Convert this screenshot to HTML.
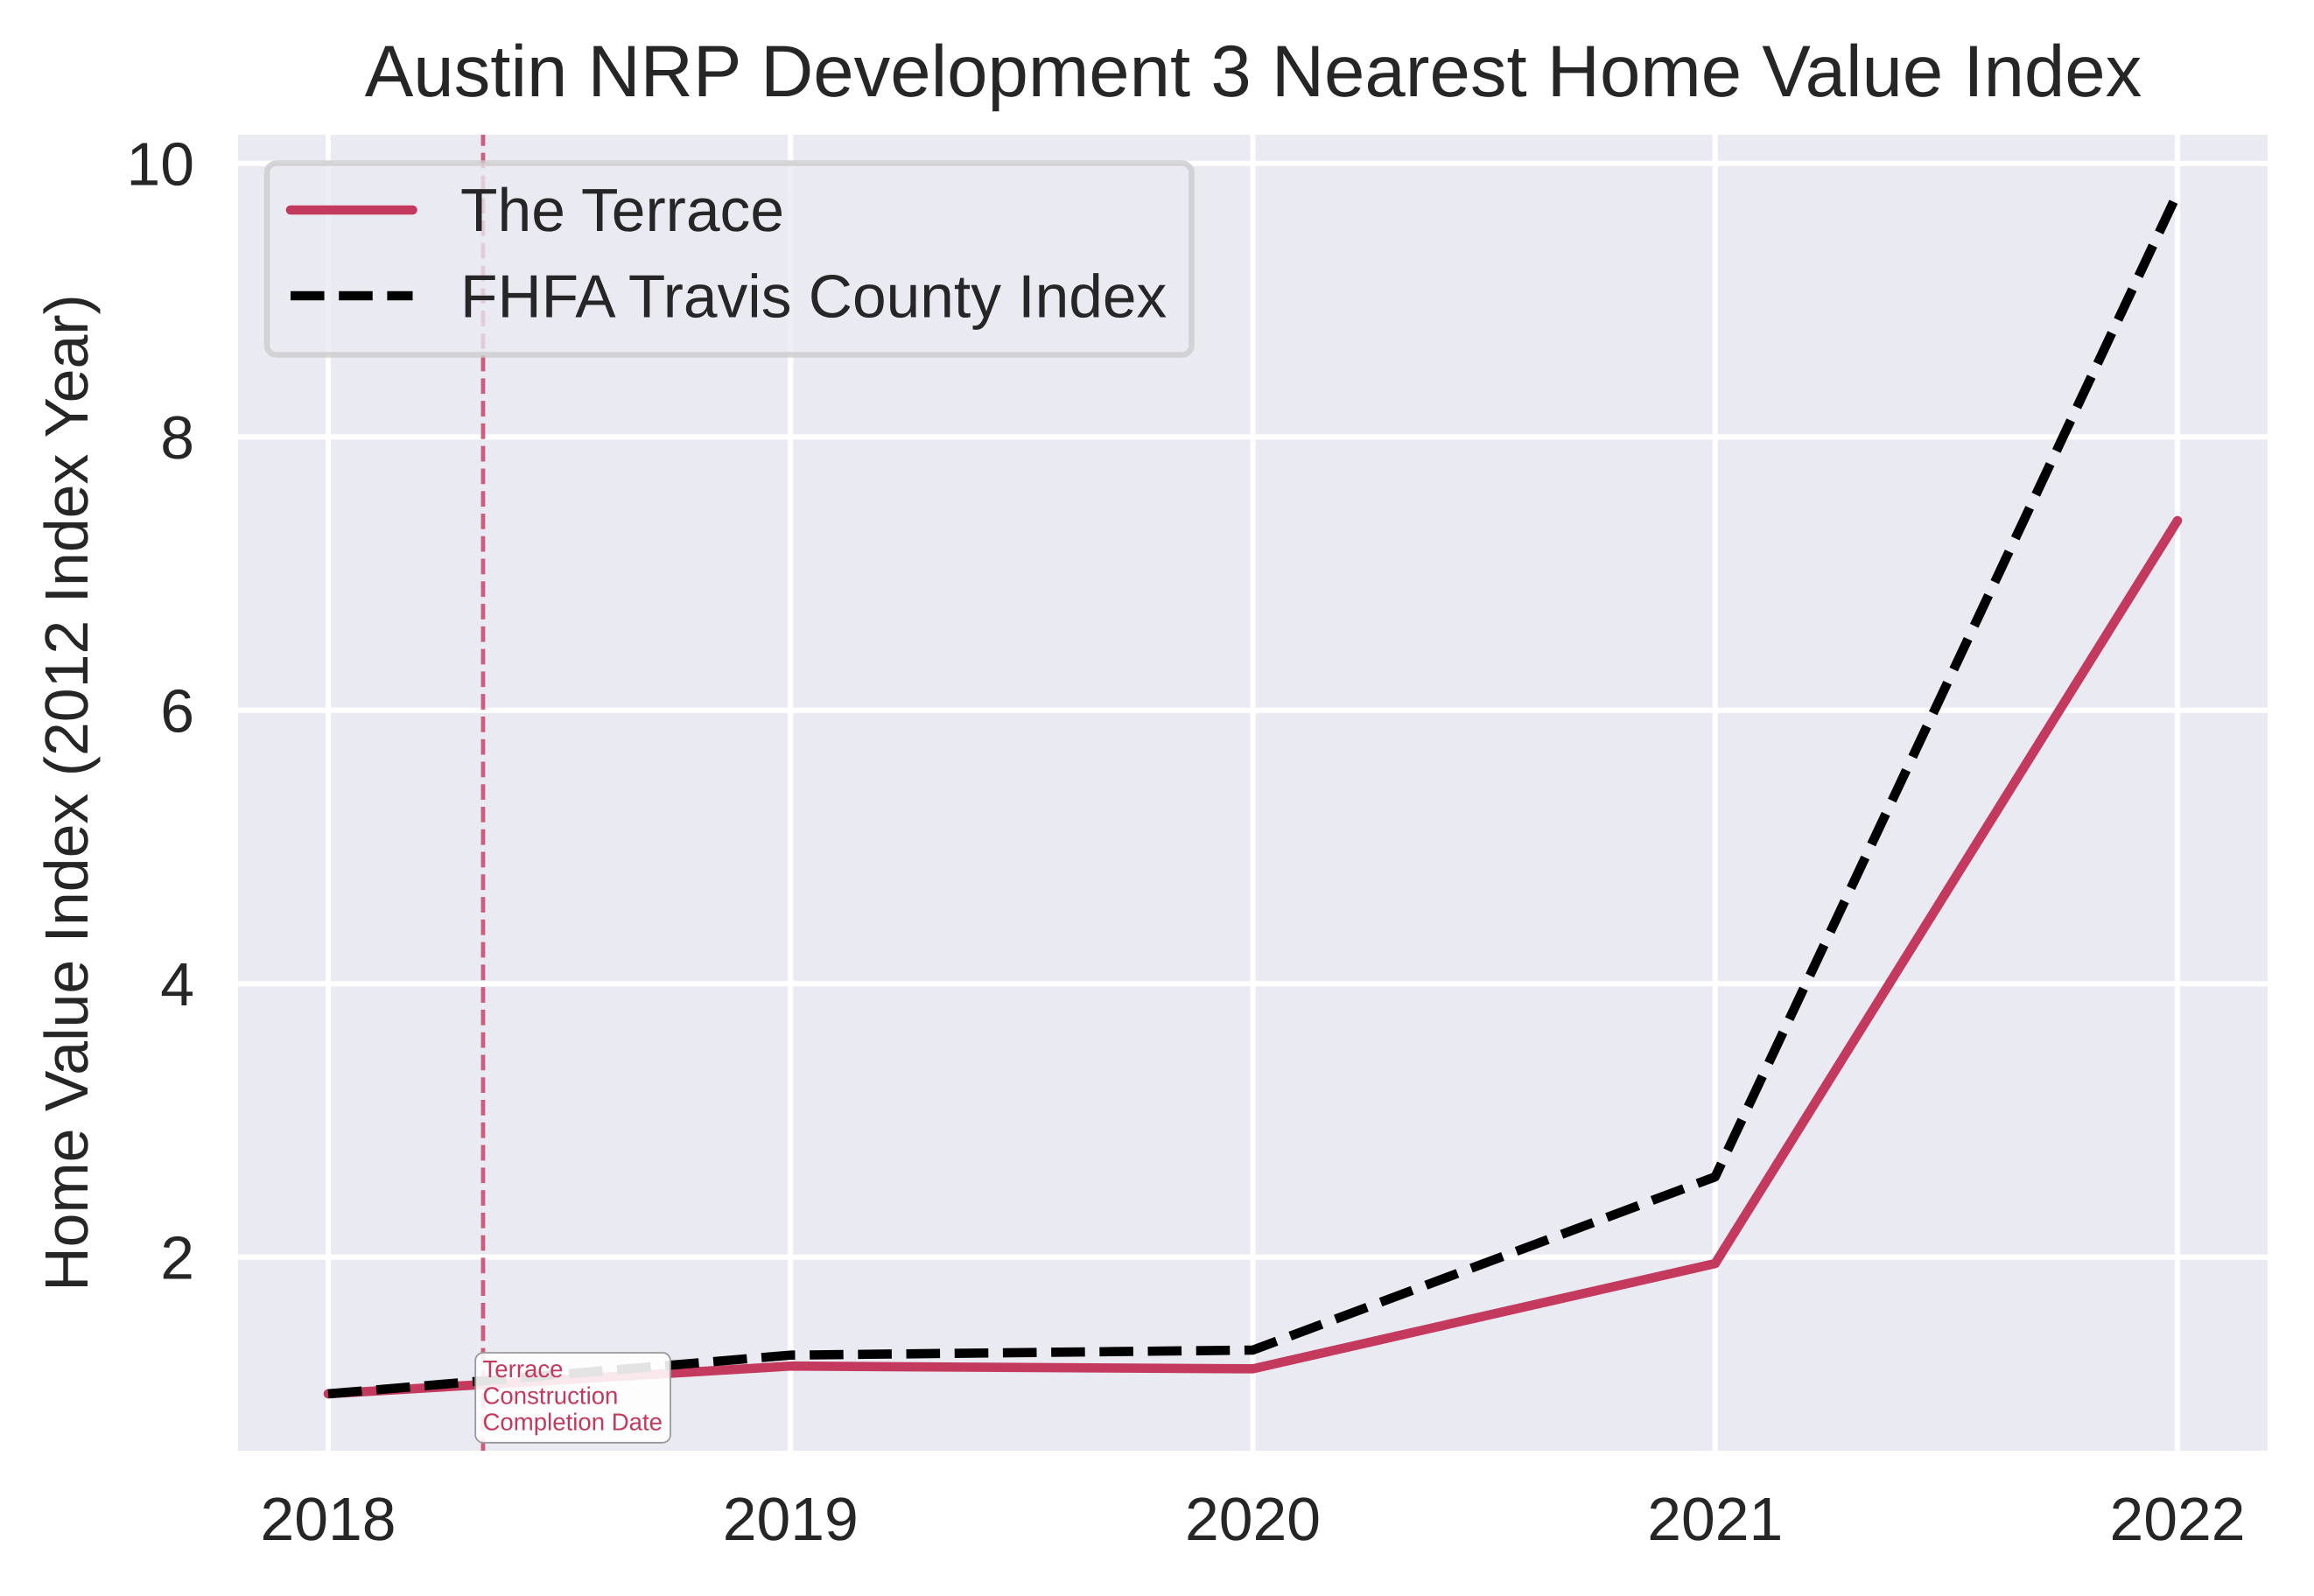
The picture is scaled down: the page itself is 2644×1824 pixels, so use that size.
<!DOCTYPE html>
<html>
<head>
<meta charset="utf-8">
<title>Austin NRP Development 3 Nearest Home Value Index</title>
<style>
html,body{margin:0;padding:0;background:#fff;width:2644px;height:1824px;overflow:hidden}
svg{display:block}
text{font-family:"Liberation Sans",Arial,sans-serif;fill:#262626;text-rendering:geometricPrecision}
</style>
</head>
<body>
<svg id="chart" xmlns="http://www.w3.org/2000/svg" width="2644" height="1824" viewBox="0 0 2644 1824">
  <rect x="0" y="0" width="2644" height="1824" fill="#ffffff"/>
  <rect x="272" y="154" width="2319" height="1504" fill="#EAEAF2"/>
  <g id="grid"></g>
  <g id="ticks"></g>
  <g id="marker"></g>
  <g id="series"></g>
  <g>
    <rect x="543.2" y="1546" width="222.8" height="102.8" rx="9" ry="9" fill="#ffffff" fill-opacity="0.89" stroke="#999999" stroke-width="1.8"/>
    <text x="551.5" y="1574" font-size="27.6" style="fill:#c43a5e">Terrace</text>
    <text x="551.5" y="1604.5" font-size="27.6" style="fill:#c43a5e">Construction</text>
    <text x="551.5" y="1634.5" font-size="27.6" style="fill:#c43a5e">Completion Date</text>
  </g>
  <g>
    <rect x="305" y="186.5" width="1056.5" height="219" rx="11" ry="11" fill="#EAEAF2" fill-opacity="0.8" stroke="#cccccc" stroke-opacity="0.8" stroke-width="6.6"/>
    <line x1="332" y1="240" x2="471.5" y2="240" stroke="#c43a5e" stroke-width="10.6" stroke-linecap="round"/>
    <text x="526" y="264" font-size="69.6">The Terrace</text>
    <line x1="332" y1="338" x2="471.5" y2="338" stroke="#000000" stroke-width="10.6" stroke-dasharray="38.55 16.65"/>
    <text x="526" y="362.7" font-size="69.5">FHFA Travis County Index</text>
  </g>
  <text x="1432" y="110" font-size="83.35" text-anchor="middle">Austin NRP Development 3 Nearest Home Value Index</text>
  <text transform="translate(100 906) rotate(-90)" font-size="69.8" text-anchor="middle">Home Value Index (2012 Index Year)</text>
</svg>
<script>
const years = [2018, 2019, 2020, 2021, 2022];
const terraceValues = [1.0, 1.203, 1.183, 1.953, 7.387];
const fhfaValues = [1.0, 1.283, 1.32, 2.587, 9.78];
const yTickValues = [2, 4, 6, 8, 10];
const xTickLabels = ['2018', '2019', '2020', '2021', '2022'];
const yTickLabels = ['2', '4', '6', '8', '10'];
const completionYear = [2018.335];

const NS = 'http://www.w3.org/2000/svg';
function xScale(v) { return 375 + (v - 2018) * 528.25; }
function yScale(v) { return 1436.7 - (v - 2) * 156.25; }
function make(tag, attrs, parent) {
  const el = document.createElementNS(NS, tag);
  for (const k in attrs) el.setAttribute(k, attrs[k]);
  parent.appendChild(el);
  return el;
}
const grid = document.getElementById('grid');
const ticks = document.getElementById('ticks');
const marker = document.getElementById('marker');
const series = document.getElementById('series');

years.forEach(function (yr, i) {
  const gl = make('line', { x1: xScale(yr), x2: xScale(yr), y1: 154, y2: 1658, stroke: '#ffffff', 'stroke-width': 6 }, grid);
  
  
  const t = make('text', { x: xScale(yr), y: 1760, 'font-size': 69.7, 'text-anchor': 'middle' }, ticks);
  t.textContent = xTickLabels[i];
  
  
});
yTickValues.forEach(function (val, i) {
  const gl = make('line', { x1: 272, x2: 2591, y1: yScale(val), y2: yScale(val), stroke: '#ffffff', 'stroke-width': 6 }, grid);
  
  
  const t = make('text', { x: 222, y: yScale(val) + 25, 'font-size': 69.7, 'text-anchor': 'end' }, ticks);
  t.textContent = yTickLabels[i];
  
  
});

const vline = make('line', { x1: xScale(completionYear[0]), x2: xScale(completionYear[0]), y1: 154, y2: 1658, stroke: '#c43a5e', 'stroke-opacity': 0.8, 'stroke-width': 4.8, 'stroke-dasharray': '17.8 7.97', 'stroke-dashoffset': 5.1 }, marker);



function pathFrom(values) {
  return values.map(function (v, i) {
    return (i ? 'L' : 'M') + xScale(years[i]).toFixed(2) + ' ' + yScale(v).toFixed(2);
  }).join(' ');
}
const terraceLine = make('path', { d: pathFrom(terraceValues), fill: 'none', stroke: '#c43a5e', 'stroke-width': 10.6, 'stroke-linecap': 'round', 'stroke-linejoin': 'round' }, series);


const fhfaLine = make('path', { d: pathFrom(fhfaValues), fill: 'none', stroke: '#000000', 'stroke-width': 10.6, 'stroke-dasharray': '38.55 16.65', 'stroke-linecap': 'butt', 'stroke-linejoin': 'round' }, series);


</script>
</body>
</html>
